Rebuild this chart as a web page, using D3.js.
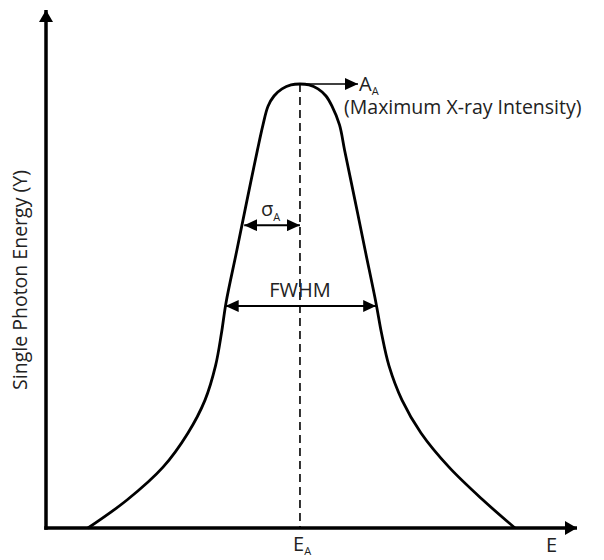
<!DOCTYPE html>
<html>
<head>
<meta charset="utf-8">
<script src="https://cdn.jsdelivr.net/npm/d3@7"></script>
<style>
  body { margin: 0; background: #fff; }
  text { font-family: "Open Sans", sans-serif; fill: #222; }
</style>
</head>
<body>
<script>
// peak shape (energy in arbitrary units, intensity normalised)
var energy =    [7.92, 15.28, 22.08, 26.79, 30.0, 31.98, 33.11, 33.96, 36.02, 37.94, 39.89,
                 40.94, 41.89, 43.02, 44.53, 46.23, 47.92, 49.62, 51.32, 52.83, 53.96,
                 55.38, 56.34, 58.28, 60.21, 62.26, 63.30, 64.72, 67.17, 70.75, 76.04, 82.45, 88.49];
var intensity = [0, 0.063, 0.137, 0.214, 0.288, 0.365, 0.439, 0.507, 0.626, 0.739, 0.851,
                 0.908, 0.950, 0.973, 0.989, 0.998, 1.0, 0.998, 0.989, 0.973, 0.950,
                 0.908, 0.851, 0.739, 0.626, 0.507, 0.439, 0.365, 0.288, 0.214, 0.137, 0.063, 0];

var peakE = 47.92,
    sigmaLeft = 37.4, sigmaLevel = 0.682,
    fwhmLeft = 33.9, fwhmRight = 62.3, fwhmLevel = 0.5;

var width = 604, height = 560;

var x = d3.scaleLinear().domain([0, 100]).range([46, 576]);
var y = d3.scaleLinear().domain([0, 1]).range([528, 84]);

var svg = d3.select("body").append("svg")
    .attr("width", width)
    .attr("height", height);

// arrow heads
var defs = svg.append("defs");
function marker(id, w, h, orient) {
    defs.append("marker")
        .attr("id", id)
        .attr("markerUnits", "userSpaceOnUse")
        .attr("viewBox", "0 0 " + w + " " + h)
        .attr("refX", w).attr("refY", h / 2)
        .attr("markerWidth", w).attr("markerHeight", h)
        .attr("orient", orient)
        .append("path")
        .attr("d", "M0,0L" + w + "," + (h / 2) + "L0," + h + "Z")
        .style("fill", "#000");
}
marker("axisArrow", 12, 14, "auto");
marker("smallArrow", 13, 12, "auto");
marker("smallArrowStart", 13, 12, "auto-start-reverse");

// axes
svg.append("line")
    .attr("x1", x(0)).attr("y1", y(0) + 1.75)
    .attr("x2", x(0)).attr("y2", 10)
    .style("stroke", "#000").style("stroke-width", 3.5)
    .attr("marker-end", "url(#axisArrow)");

svg.append("line")
    .attr("x1", x(0) - 1.75).attr("y1", y(0))
    .attr("x2", 577).attr("y2", y(0))
    .style("stroke", "#000").style("stroke-width", 3.5)
    .attr("marker-end", "url(#axisArrow)");

// dashed centre line
svg.append("line")
    .attr("x1", x(peakE)).attr("y1", y(1))
    .attr("x2", x(peakE)).attr("y2", y(0))
    .style("stroke", "#000").style("stroke-width", 1.6)
    .style("stroke-dasharray", "8,5");

// the peak
var line = d3.line()
    .x(function(d, i) { return x(energy[i]); })
    .y(function(d, i) { return y(intensity[i]); })
    .curve(d3.curveCatmullRom.alpha(0.5));

svg.append("path")
    .datum(energy)
    .attr("d", line)
    .style("fill", "none")
    .style("stroke", "#000")
    .style("stroke-width", 2.8);

// maximum arrow
svg.append("line")
    .attr("x1", x(peakE)).attr("y1", y(1))
    .attr("x2", 358).attr("y2", y(1))
    .style("stroke", "#000").style("stroke-width", 1.6)
    .attr("marker-end", "url(#smallArrow)");

// sigma arrow
svg.append("line")
    .attr("x1", x(sigmaLeft)).attr("y1", y(sigmaLevel))
    .attr("x2", x(peakE)).attr("y2", y(sigmaLevel))
    .style("stroke", "#000").style("stroke-width", 2)
    .attr("marker-start", "url(#smallArrowStart)")
    .attr("marker-end", "url(#smallArrow)");

// FWHM arrow
svg.append("line")
    .attr("x1", x(fwhmLeft)).attr("y1", y(fwhmLevel))
    .attr("x2", x(fwhmRight)).attr("y2", y(fwhmLevel))
    .style("stroke", "#000").style("stroke-width", 2)
    .attr("marker-start", "url(#smallArrowStart)")
    .attr("marker-end", "url(#smallArrow)");

// labels
function subLabel(tx, ty, main, sub, size, drop) {
    var t = svg.append("text")
        .attr("x", tx).attr("y", ty)
        .style("font-size", size + "px");
    t.append("tspan").text(main);
    t.append("tspan").attr("dy", drop).style("font-size", (size * 0.55) + "px").text(sub);
    return t;
}

subLabel(359, 91, "A", "A", 20, 4);
svg.append("text")
    .attr("x", 344).attr("y", 114)
    .style("font-size", "19.5px")
    .text("(Maximum X-ray Intensity)");

subLabel(261, 216, "σ", "A", 20, 5);

svg.append("text")
    .attr("x", x(peakE)).attr("y", 297)
    .attr("text-anchor", "middle")
    .style("font-size", "20px")
    .text("FWHM");

subLabel(293, 551, "E", "A", 20, 4);
svg.append("text")
    .attr("x", 546).attr("y", 552)
    .style("font-size", "20px")
    .text("E");

svg.append("text")
    .attr("transform", "translate(27,280) rotate(-90)")
    .attr("text-anchor", "middle")
    .style("font-size", "19.5px")
    .text("Single Photon Energy (Y)");
</script>
</body>
</html>
